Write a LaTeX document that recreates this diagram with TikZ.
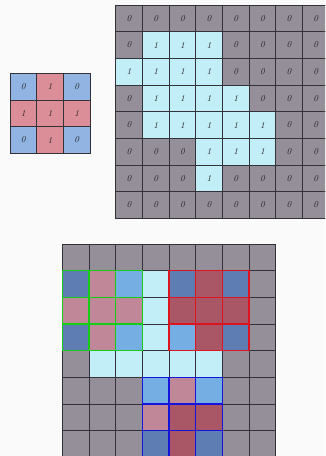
\documentclass[tikz,border=0pt]{standalone}
\usetikzlibrary{positioning}

\definecolor{paper}{RGB}{250,250,250}
\definecolor{gridline}{RGB}{50,50,56}
\definecolor{zerocell}{RGB}{148,143,153}
\definecolor{onecell}{RGB}{194,238,248}
\definecolor{kblue}{RGB}{42,111,205}
\definecolor{kred}{RGB}{190,33,55}
\definecolor{wingreen}{RGB}{20,205,20}
\definecolor{winred}{RGB}{220,20,30}
\definecolor{winblue}{RGB}{20,20,220}

\def\cellsz{26.67}
\def\kernelrows{{0,1,0},{1,1,1},{0,1,0}}
\def\imgrows{{0,0,0,0,0,0,0,0},{0,1,1,1,0,0,0,0},{1,1,1,1,0,0,0,0},{0,1,1,1,1,0,0,0},{0,1,1,1,1,1,0,0},{0,0,0,1,1,1,0,0},{0,0,0,1,0,0,0,0},{0,0,0,0,0,0,0,0}}

\begin{document}
\begin{tikzpicture}[
    x=1pt, y=-1pt,
    cell/.style={draw=gridline, line width=0.6pt, minimum size=\cellsz pt, inner sep=0pt, outer sep=0pt,
      font=\itshape\fontsize{9}{10}\selectfont, text=black!85},
    kcell/.style={cell, fill opacity=0.5, text opacity=1},
    wincell/.style={cell, line width=1.2pt, fill opacity=0.5}
  ]
  \useasboundingbox (0,0) rectangle (325,456);
  \fill[paper] (0,0) rectangle (325,456);
  \clip (0,0) rectangle (325,456);

  % Kernel
  \foreach \kvals [count=\r from 0] in \kernelrows {
    \foreach \v [count=\c from 0] in \kvals {
      \ifnum\v=1 \def\kc{kred}\else\def\kc{kblue}\fi
      \node[kcell, fill=\kc] (ker-\r-\c) at ({10+(\c+0.5)*\cellsz}, {73.33+(\r+0.5)*\cellsz}) {\v};
    }
  }

  % Input image with values
  \foreach \rvals [count=\r from 0] in \imgrows {
    \foreach \v [count=\c from 0] in \rvals {
      \ifnum\v=1 \def\pc{onecell}\else\def\pc{zerocell}\fi
      \node[cell, fill=\pc] (img-\r-\c) at ({115.7+(\c+0.5)*\cellsz}, {5+(\r+0.5)*\cellsz}) {\v};
    }
  }

  % Same image, no values
  \foreach \rvals [count=\r from 0] in \imgrows {
    \foreach \v [count=\c from 0] in \rvals {
      \ifnum\v=1 \def\pc{onecell}\else\def\pc{zerocell}\fi
      \node[cell, fill=\pc] (conv-\r-\c) at ({62.3+(\c+0.5)*\cellsz}, {244+(\r+0.5)*\cellsz}) {};
    }
  }

  % Kernel windows laid over the image
  \foreach \wr/\wc/\wcol in {1/0/wingreen, 1/4/winred, 5/3/winblue} {
    \foreach \kvals [count=\r from 0] in \kernelrows {
      \foreach \v [count=\c from 0] in \kvals {
        \ifnum\v=1 \def\kc{kred}\else\def\kc{kblue}\fi
        \node[wincell, draw=\wcol, fill=\kc] (win-\wcol-\r-\c)
          at ({62.3+(\wc+\c+0.5)*\cellsz}, {244+(\wr+\r+0.5)*\cellsz}) {};
      }
    }
  }
\end{tikzpicture}
\end{document}
